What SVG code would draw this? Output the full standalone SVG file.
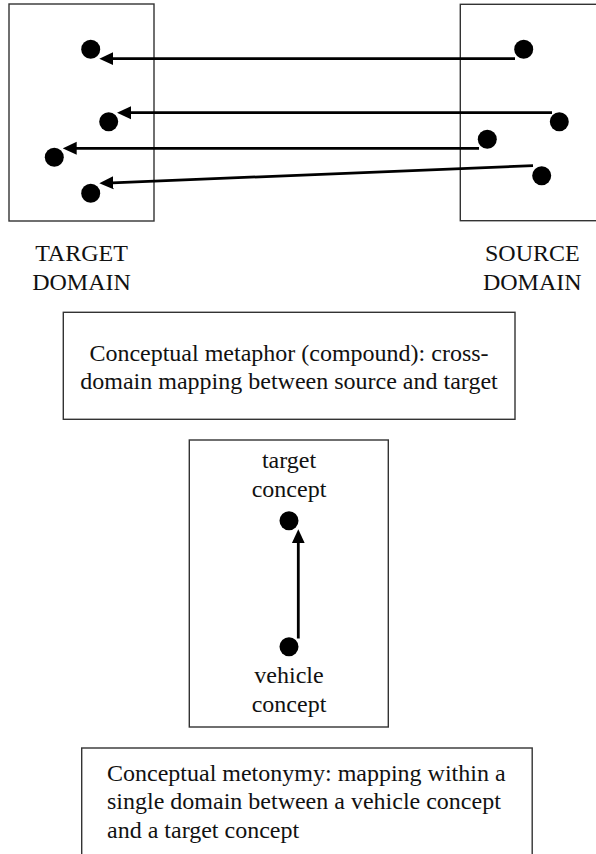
<svg xmlns="http://www.w3.org/2000/svg" width="596" height="854" viewBox="0 0 596 854">
<style>
.box{fill:#fff;stroke:#333;stroke-width:1.4}
.dot{fill:#000}
.lbl{font-family:"Liberation Serif","Times New Roman",serif;font-size:24px;fill:#111}
.mid{text-anchor:middle}
.conn{stroke:#000;stroke-width:2.8;fill:none;marker-end:url(#ah)}
</style>
<defs>
<marker id="ah" markerUnits="userSpaceOnUse" markerWidth="14" markerHeight="14" viewBox="0 0 14 14" refX="1" refY="7" orient="auto">
<path d="M0,0.5 L14,7 L0,13.5 z" fill="#000"/>
</marker>
</defs>
<rect width="596" height="854" fill="#fff"/>
<g id="target-domain">
<rect class="box" x="9" y="4" width="145" height="217"/>
<circle class="dot" cx="90.7" cy="49.3" r="9.5"/>
<circle class="dot" cx="108.7" cy="121.7" r="9.5"/>
<circle class="dot" cx="54.3" cy="157.3" r="9.5"/>
<circle class="dot" cx="90.7" cy="193.3" r="9.5"/>
<text class="lbl mid" x="81.5" y="260.7">TARGET</text>
<text class="lbl mid" x="81.5" y="290.3">DOMAIN</text>
</g>
<g id="source-domain">
<rect class="box" x="460.3" y="4.3" width="150" height="216.4"/>
<circle class="dot" cx="523.7" cy="49.3" r="9.5"/>
<circle class="dot" cx="559.3" cy="121.7" r="9.5"/>
<circle class="dot" cx="487.3" cy="139.3" r="9.5"/>
<circle class="dot" cx="541.7" cy="175.7" r="9.5"/>
<text class="lbl mid" x="532.3" y="260.7">SOURCE</text>
<text class="lbl mid" x="532.3" y="290.3">DOMAIN</text>
</g>
<g id="metaphor-caption">
<rect class="box" x="63.3" y="312.3" width="451.7" height="107"/>
<text class="lbl mid" x="289" y="361">Conceptual metaphor (compound): cross-</text>
<text class="lbl mid" x="289" y="389.3">domain mapping between source and target</text>
</g>
<g id="metonymy-domain">
<rect class="box" x="189.3" y="440" width="199" height="287"/>
<text class="lbl mid" x="289" y="468.3">target</text>
<text class="lbl mid" x="289" y="496.7">concept</text>
<circle class="dot" cx="289" cy="520.7" r="9.5"/>
<circle class="dot" cx="289" cy="646.7" r="9.5"/>
<text class="lbl mid" x="289" y="683.3">vehicle</text>
<text class="lbl mid" x="289" y="711.7">concept</text>
</g>
<g id="metonymy-caption">
<rect class="box" x="81.7" y="748" width="450.5" height="120"/>
<text class="lbl" x="107" y="780.5">Conceptual metonymy: mapping within a</text>
<text class="lbl" x="107" y="809">single domain between a vehicle concept</text>
<text class="lbl" x="107" y="838">and a target concept</text>
</g>
<g id="connectors">
<line class="conn" x1="515" y1="58.7" x2="112.3" y2="58.7"/>
<line class="conn" x1="552" y1="112.7" x2="130" y2="112.7"/>
<line class="conn" x1="479" y1="148.3" x2="75.7" y2="148.3"/>
<line class="conn" x1="533" y1="165.7" x2="112.3" y2="182.8"/>
<line class="conn" x1="298.3" y1="638.5" x2="298.3" y2="542.3"/>
</g>
</svg>
